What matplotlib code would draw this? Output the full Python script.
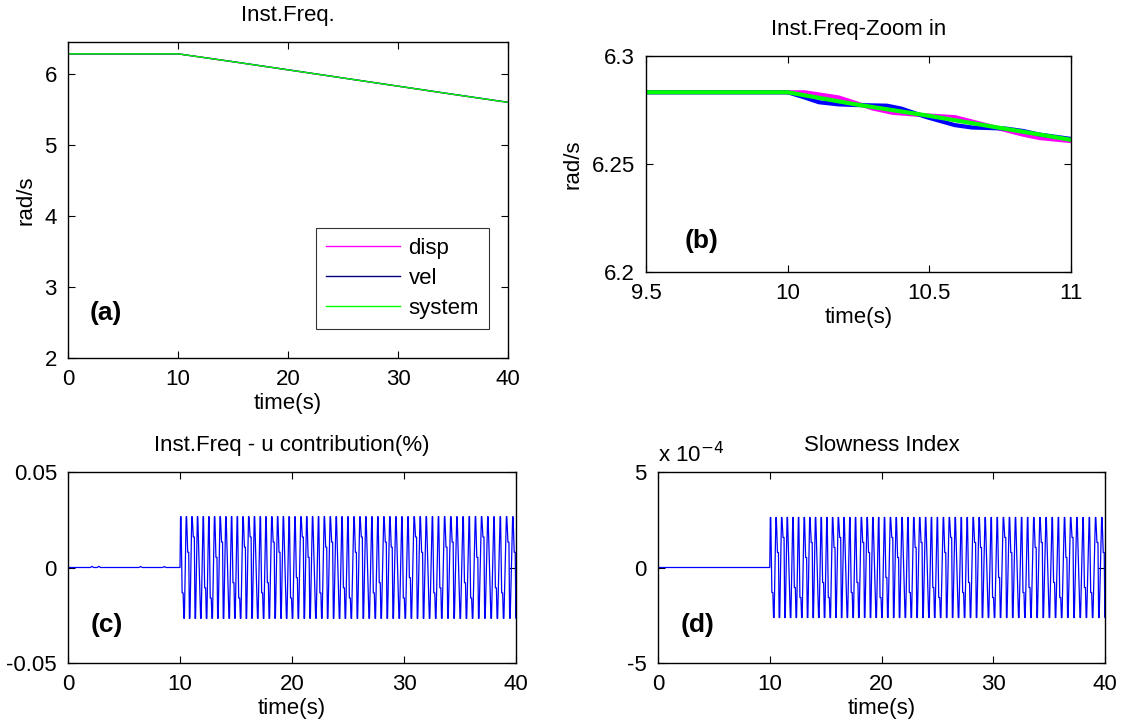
import numpy as np
import matplotlib
matplotlib.use('Agg')
import matplotlib.pyplot as plt

plt.rcParams['font.family'] = ['Liberation Sans', 'DejaVu Sans']
plt.rcParams['font.size'] = 16
plt.rcParams['axes.unicode_minus'] = False

# instantaneous frequency, full run (rad/s)
t_full = [0, 10, 15, 20, 25, 30, 35, 40]
sys_full = [6.2832, 6.2832, 6.172, 6.058, 5.943, 5.828, 5.713, 5.600]
disp_full = [6.2832, 6.2832, 6.171, 6.057, 5.942, 5.827, 5.712, 5.599]
vel_full = [6.2832, 6.2832, 6.173, 6.059, 5.944, 5.829, 5.714, 5.601]

# zoom window 9.5 - 11 s
t_sys = [9.5, 10.0, 10.24, 10.49, 10.75, 11.0]
sys_zoom = [6.2832, 6.2832, 6.2776, 6.2725, 6.2667, 6.2612]
t_disp = [9.5, 10.0, 10.06, 10.18, 10.30, 10.37, 10.49, 10.59, 10.71, 10.83, 10.89, 11.0]
disp_zoom = [6.2832, 6.2832, 6.2832, 6.2808, 6.2757, 6.2737, 6.2725, 6.2717, 6.2677, 6.2636, 6.2620, 6.2606]
t_vel = [9.5, 10.0, 10.06, 10.11, 10.18, 10.24, 10.35, 10.40, 10.49, 10.59, 10.65, 10.77, 10.83, 10.89, 11.0]
vel_zoom = [6.2832, 6.2832, 6.2808, 6.2786, 6.2776, 6.2773, 6.2770, 6.2757, 6.2717, 6.2680, 6.2669, 6.2664, 6.2653, 6.2636, 6.2616]

# oscillation after the input starts: peak times (s) and mid-edge kink levels
peak_t = [10.12, 10.62, 11.12, 11.62, 12.13, 12.63, 13.14, 13.64, 14.15, 14.66,
          15.17, 15.68, 16.19, 16.70, 17.22, 17.73, 18.25, 18.77, 19.28, 19.80,
          20.32, 20.85, 21.37, 21.89, 22.42, 22.94, 23.47, 24.00, 24.52, 25.05,
          25.59, 26.12, 26.65, 27.19, 27.72, 28.26, 28.79, 29.33, 29.87, 30.41,
          30.96, 31.50, 32.04, 32.59, 33.13, 33.68, 34.23, 34.78, 35.33, 35.88,
          36.43, 36.98, 37.54, 38.09, 38.65, 39.21, 39.77]
kink = [-0.5, 0.3, 0.6, 0, -0.4, -0.6, 0.2, 0.5, 0, -0.3, -0.6, 0.4, 0.6, 0, -0.5,
        -0.3, 0.5, 0.3, 0, -0.6, -0.2, 0.6, 0.2, 0, -0.5, 0.4, 0.5, 0, -0.4, -0.6,
        0.3, 0.6, 0, -0.5, -0.3, 0.5, 0.4, 0, -0.6, -0.2, 0.6, 0.3, 0, -0.5, -0.4,
        0.4, 0.5, 0, -0.3, -0.6, 0.2, 0.6, 0, -0.4, -0.5, 0.5, 0.3]
end_level = -0.65

u_amp = 0.0266
u_bumps_t = [2.15, 2.75, 6.48, 8.6]
u_bumps_v = [0.0006, 0.0006, 0.0005, 0.0005]
slow_amp = 2.62e-4


def osc_path(amp, bumps_t=(), bumps_v=()):
    xs = [0.0]
    ys = [0.0]
    for bt, bv in zip(bumps_t, bumps_v):
        xs += [bt - 0.15, bt, bt + 0.15]
        ys += [0.0, bv, 0.0]
    xs.append(10.0)
    ys.append(0.0)
    for i, tp in enumerate(peak_t):
        xs += [tp - 0.07, tp - 0.03]
        ys += [amp, amp]
        k = kink[i]
        if k != 0:
            xs += [tp + 0.07, tp + 0.16]
            ys += [k * amp, k * amp]
        xs += [tp + 0.22, tp + 0.27]
        ys += [-amp, -amp]
    xs.append(40.0)
    ys.append(end_level * amp)
    return xs, ys


fig = plt.figure(figsize=(11.27, 7.21), dpi=100)
W, H = 1127.0, 721.0


def add_ax(l, t, r, b):
    return fig.add_axes([l / W, 1 - b / H, (r - l) / W, (b - t) / H])


def style(ax):
    ax.tick_params(direction='in', length=5, width=0.8, top=True, right=True,
                   labelsize=16, pad=8)
    for s in ax.spines.values():
        s.set_linewidth(1.0)


# (a)
ax1 = add_ax(68, 42, 508, 358)
ax1.plot(t_full, disp_full, color='#ff00ff', lw=1, label='disp')
ax1.plot(t_full, vel_full, color='#00007f', lw=1, label='vel')
ax1.plot(t_full, sys_full, color='#00ff00', lw=1, label='system')
ax1.set_xlim(0, 40)
ax1.set_ylim(2, 6.45)
ax1.set_xticks([0, 10, 20, 30, 40])
ax1.set_yticks([2, 3, 4, 5, 6])
ax1.set_title('Inst.Freq.', fontsize=16, pad=15)
ax1.set_xlabel('time(s)', fontsize=16, labelpad=2)
ax1.set_ylabel('rad/s', fontsize=16, labelpad=6)
ax1.text(0.05, 0.12, '(a)', transform=ax1.transAxes, fontsize=19, fontweight='bold')
leg = ax1.legend(loc='lower right', bbox_to_anchor=(0.957, 0.092), borderaxespad=0,
                 fontsize=16, fancybox=False, edgecolor='black', handlelength=3.3,
                 borderpad=0.45, labelspacing=0.4, handletextpad=0.4)
leg.get_frame().set_linewidth(0.8)
style(ax1)

# (b)
ax2 = add_ax(646, 56, 1071, 272)
ax2.plot(t_disp, disp_zoom, color='#ff00ff', lw=3)
ax2.plot(t_vel, vel_zoom, color='#0000ff', lw=3)
ax2.plot(t_sys, sys_zoom, color='#00ff00', lw=3)
ax2.set_xlim(9.5, 11)
ax2.set_ylim(6.2, 6.3)
ax2.set_xticks([9.5, 10, 10.5, 11])
ax2.set_xticklabels(['9.5', '10', '10.5', '11'])
ax2.set_yticks([6.2, 6.25, 6.3])
ax2.set_yticklabels(['6.2', '6.25', '6.3'])
ax2.set_title('Inst.Freq-Zoom in', fontsize=16, pad=15)
ax2.set_xlabel('time(s)', fontsize=16, labelpad=2)
ax2.set_ylabel('rad/s', fontsize=16, labelpad=6)
ax2.text(0.09, 0.11, '(b)', transform=ax2.transAxes, fontsize=19, fontweight='bold')
style(ax2)

# (c)
ax3 = add_ax(68, 472, 516, 663)
xs, ys = osc_path(u_amp, u_bumps_t, u_bumps_v)
ax3.plot(xs, ys, color='#0000ff', lw=0.9)
ax3.set_xlim(0, 40)
ax3.set_ylim(-0.05, 0.05)
ax3.set_xticks([0, 10, 20, 30, 40])
ax3.set_yticks([-0.05, 0, 0.05])
ax3.set_yticklabels(['-0.05', '0', '0.05'])
ax3.set_title('Inst.Freq - u contribution(%)', fontsize=16, pad=15)
ax3.set_xlabel('time(s)', fontsize=16, labelpad=2)
ax3.text(0.05, 0.16, '(c)', transform=ax3.transAxes, fontsize=19, fontweight='bold')
style(ax3)

# (d)
ax4 = add_ax(658, 472, 1105, 663)
xs, ys = osc_path(slow_amp)
ax4.plot(xs, np.array(ys) * 1e4, color='#0000ff', lw=0.9)
ax4.set_xlim(0, 40)
ax4.set_ylim(-5, 5)
ax4.set_xticks([0, 10, 20, 30, 40])
ax4.set_yticks([-5, 0, 5])
ax4.set_title('Slowness Index', fontsize=16, pad=15)
ax4.set_xlabel('time(s)', fontsize=16, labelpad=2)
ax4.text(0.0, 1.05, r'x 10$^{-4}$', transform=ax4.transAxes, fontsize=16)
ax4.text(0.05, 0.16, '(d)', transform=ax4.transAxes, fontsize=19, fontweight='bold')
style(ax4)

fig.savefig('out.png', dpi=100)
